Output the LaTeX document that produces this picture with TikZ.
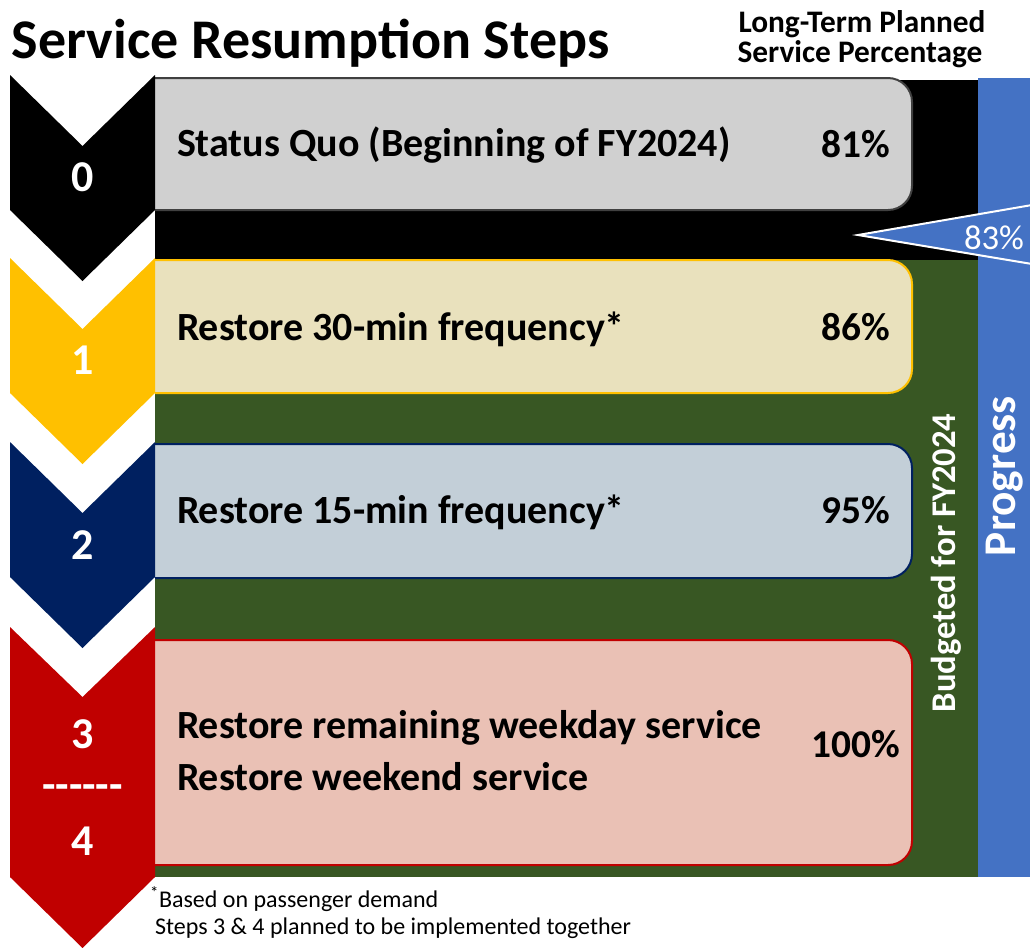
\documentclass[tikz,border=0pt]{standalone}
\usepackage{fontspec}
\setmainfont{Carlito}
\definecolor{stepgold}{HTML}{FFC000}
\definecolor{stepnavy}{HTML}{002060}
\definecolor{stepred}{HTML}{C00000}
\definecolor{boxgrey}{HTML}{D0D0D0}
\definecolor{boxbeige}{HTML}{E9E1BD}
\definecolor{boxsteel}{HTML}{C3CFD8}
\definecolor{boxpink}{HTML}{EAC1B5}
\definecolor{budgetgreen}{HTML}{385723}
\definecolor{progressblue}{HTML}{4472C4}
\begin{document}
\begin{tikzpicture}[x=0.75pt,y=-0.75pt,inner sep=0pt,outer sep=0pt,
  stepnum/.style={text=white,anchor=base,font=\fontsize{33}{33}\selectfont\bfseries},
  rowtext/.style={anchor=base west,font=\fontsize{30}{30}\selectfont\bfseries},
  pct/.style={anchor=base east,font=\fontsize{29.5}{30}\selectfont\bfseries},
  headtext/.style={anchor=base,font=\fontsize{23.5}{24}\selectfont\bfseries},
  notetext/.style={anchor=base west,font=\fontsize{18}{20}\selectfont},
  stepbox/.style={line width=1.5pt,rounded corners=18pt}]
\useasboundingbox (0,0) rectangle (1030,947);

% coloured bands behind the step boxes
\fill[black] (155,80) rectangle (978,260);
\fill[budgetgreen] (155,260) rectangle (978,877);
\fill[progressblue] (978,78) rectangle (1030,877);

% step boxes, square on the left where they meet the chevrons
\begin{scope}
  \clip (155,0) rectangle (1030,947);
  \draw[stepbox,draw=black!75,fill=boxgrey] (120,78) rectangle (912,210);
  \draw[stepbox,draw=stepgold,fill=boxbeige] (120,260) rectangle (912,393);
  \draw[stepbox,draw=stepnavy,fill=boxsteel] (120,444) rectangle (912,578);
  \draw[stepbox,draw=stepred,fill=boxpink] (120,640) rectangle (912,865);
\end{scope}

% chevrons
\fill[black]    (10,75)  -- (82.5,146) -- (155,75)  -- (155,210) -- (82.5,281) -- (10,210) -- cycle;
\fill[stepgold] (10,258) -- (82.5,329) -- (155,258) -- (155,393) -- (82.5,464) -- (10,393) -- cycle;
\fill[stepnavy] (10,442) -- (82.5,513) -- (155,442) -- (155,577) -- (82.5,648) -- (10,577) -- cycle;
\fill[stepred]  (10,627) -- (82.5,697) -- (155,627) -- (155,877) -- (82.5,948) -- (10,877) -- cycle;

\node[stepnum] (n0) at (82.5,191) {0};
\node[stepnum] (n1) at (82.5,374) {1};
\node[stepnum] (n2) at (82.5,559) {2};
\node[stepnum] (n3) at (82.5,748) {3};
\node[stepnum] (ndash) at (82.5,799) {-{}-{}-{}-{}-{}-};
\node[stepnum] (n4) at (82.5,855) {4};

% marker for the current level
\draw[white,line width=1.5pt,fill=progressblue,line join=miter] (1032,205) -- (858,235) -- (1032,264);
\node[anchor=base,text=white,font=\fontsize{26}{26}\selectfont] (cur) at (994,249) {83\%};

% headings
\node[anchor=base west,font=\fontsize{42}{42}\selectfont\bfseries] (title) at (12,58) {Service Resumption Steps};
\node[headtext] (head1) at (862,32) {Long-Term Planned};
\node[headtext] (head2) at (860,62) {Service Percentage};

% step texts
\node[rowtext] (t0) at (177,156) {Status Quo (Beginning of FY2024)};
\node[pct] (p0) at (890,157) {81\%};
\node[rowtext] (t1) at (177,340) {Restore 30-min frequency*};
\node[pct] (p1) at (890,340) {86\%};
\node[rowtext] (t2) at (177,523) {Restore 15-min frequency*};
\node[pct] (p2) at (890,523) {95\%};
\node[rowtext] (t3) at (177,738) {Restore remaining weekday service};
\node[rowtext] (t4) at (177,790) {Restore weekend service};
\node[pct] (p3) at (900,757) {100\%};

% side labels
\node[anchor=base,rotate=90,text=white,font=\fontsize{26}{26}\selectfont\bfseries] (budget) at (955,563) {Budgeted for FY2024};
\node[anchor=base,rotate=90,text=white,font=\fontsize{34}{34}\selectfont\bfseries] (progress) at (1015,476) {Progress};

% footnotes
\node[notetext] (note1) at (150,907) {\textsuperscript{*}Based on passenger demand};
\node[notetext] (note2) at (155,934) {Steps 3 \& 4 planned to be implemented together};
\end{tikzpicture}
\end{document}
